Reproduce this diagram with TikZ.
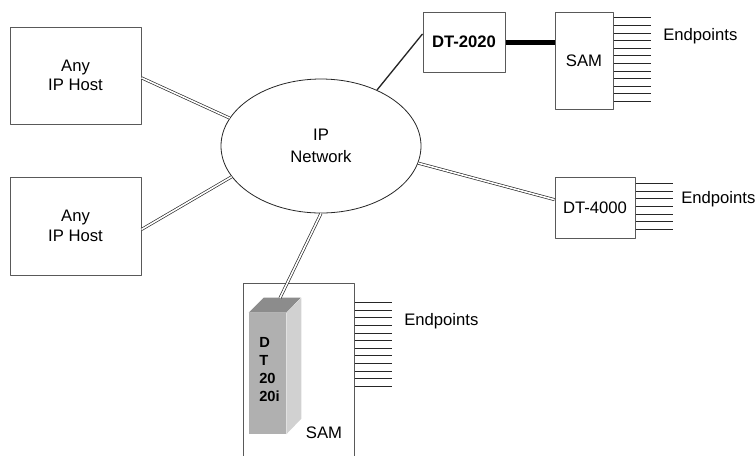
\documentclass[tikz,border=0pt]{standalone}
\usepackage{fontspec}
\setmainfont{Liberation Sans}
\usetikzlibrary{shapes.geometric, calc}

\begin{document}
\begin{tikzpicture}[x=0.75pt, y=-0.75pt, line join=round]

  \def\pitch{7.6}
  \def\depth{15}
  \def\lead{37}

  % Styles
  \tikzset{
    box/.style={draw=black!65, line width=0.75pt, inner sep=0pt, align=center,
      font=\fontsize{12.5}{14.5}\selectfont},
    cloud-net/.style={ellipse, draw=black!85, line width=0.6pt, inner sep=0pt,
      align=center, font=\fontsize{12.5}{16.5}\selectfont},
    link/.style={draw=black!85, line width=0.5pt, double=white, double distance=1.2pt},
    link-single/.style={black!85, line width=1pt},
    trunk/.style={black, line width=3.75pt},
    port/.style={black!85, line width=0.6pt},
    tag/.style={anchor=west, inner sep=0pt, font=\fontsize{12.5}{14.5}\selectfont},
  }

  \useasboundingbox (0,0) rectangle (755,455);
  \clip (0,0) rectangle (755,455);

  % Hosts and network
  \node[box, minimum width=98.25pt, minimum height=72.75pt] (host1) at (75.5,75.5) {Any\\IP Host};
  \node[box, minimum width=98.25pt, minimum height=73.5pt] (host2) at (75.5,226) {Any\\IP Host};
  \node[cloud-net, minimum width=150pt, minimum height=100.5pt] (net) at (321,146) {IP\\Network};

  % Gateways
  \node[box, font=\fontsize{12.5}{14.5}\selectfont\bfseries,
    minimum width=61.5pt, minimum height=45pt] (dt2020) at (464,42) {DT-2020};
  \node[box, minimum width=43.5pt, minimum height=72.75pt] (sam1) at (584,60.5) {SAM};
  \node[box, minimum width=60pt, minimum height=45.75pt] (dt4000) at (595,207.5) {DT-4000};
  \node[box, minimum width=83.25pt, minimum height=134.25pt] (sam2) at (298.5,372.5) {};
  \node[tag, anchor=center] (sam2-name) at (324,433) {SAM};

  % Card inside the lower SAM
  \node[fill=black!31, inner sep=0pt, minimum width=27.75pt, minimum height=90.75pt] (dt2020i) at (267.5,373.5) {};
  \fill[black!45] (dt2020i.north west) -- ++(\depth,-\depth) -- ++(37,0) -- (dt2020i.north east) -- cycle;
  \fill[black!18] (dt2020i.north east) -- ++(\depth,-\depth) -- ++(0,121) -- (dt2020i.south east) -- cycle;
  \node[anchor=west, inner sep=0pt, align=left, font=\fontsize{11}{13.5}\selectfont\bfseries]
    (dt2020i-name) at (259,369.5) {D\\T\\20\\20i};
  \coordinate (dttop) at (280,298);

  % Links
  \draw[link] (host1.-2) -- (net.163.6);
  \draw[link] (host2.-3.5) -- (net.199);
  \draw[link-single] (net.45.5) -- (dt2020.169);
  \draw[link] (net.350) -- (dt4000.169);
  \draw[link] (net.270) -- (dttop);
  \draw[trunk] (dt2020.east) -- (dt2020.east -| sam1.west);

  % Endpoint lines
  \foreach \i in {0,...,11} {
    \draw[port] ($(sam1.north east)+(0,{6.3+\i*\pitch})$) -- ++(\lead,0);
    \draw[port] ($(sam2.north east)+(0,{20+\i*\pitch})$) -- ++(\lead,0);
  }
  \foreach \i in {0,...,6} {
    \draw[port] ($(dt4000.north east)+(0,{7+\i*7.67})$) -- ++(\lead,0);
  }

  \node[tag] (ep1) at (663,36) {Endpoints};
  \node[tag] (ep2) at (681,199) {Endpoints};
  \node[tag] (ep3) at (404,321) {Endpoints};

\end{tikzpicture}
\end{document}
